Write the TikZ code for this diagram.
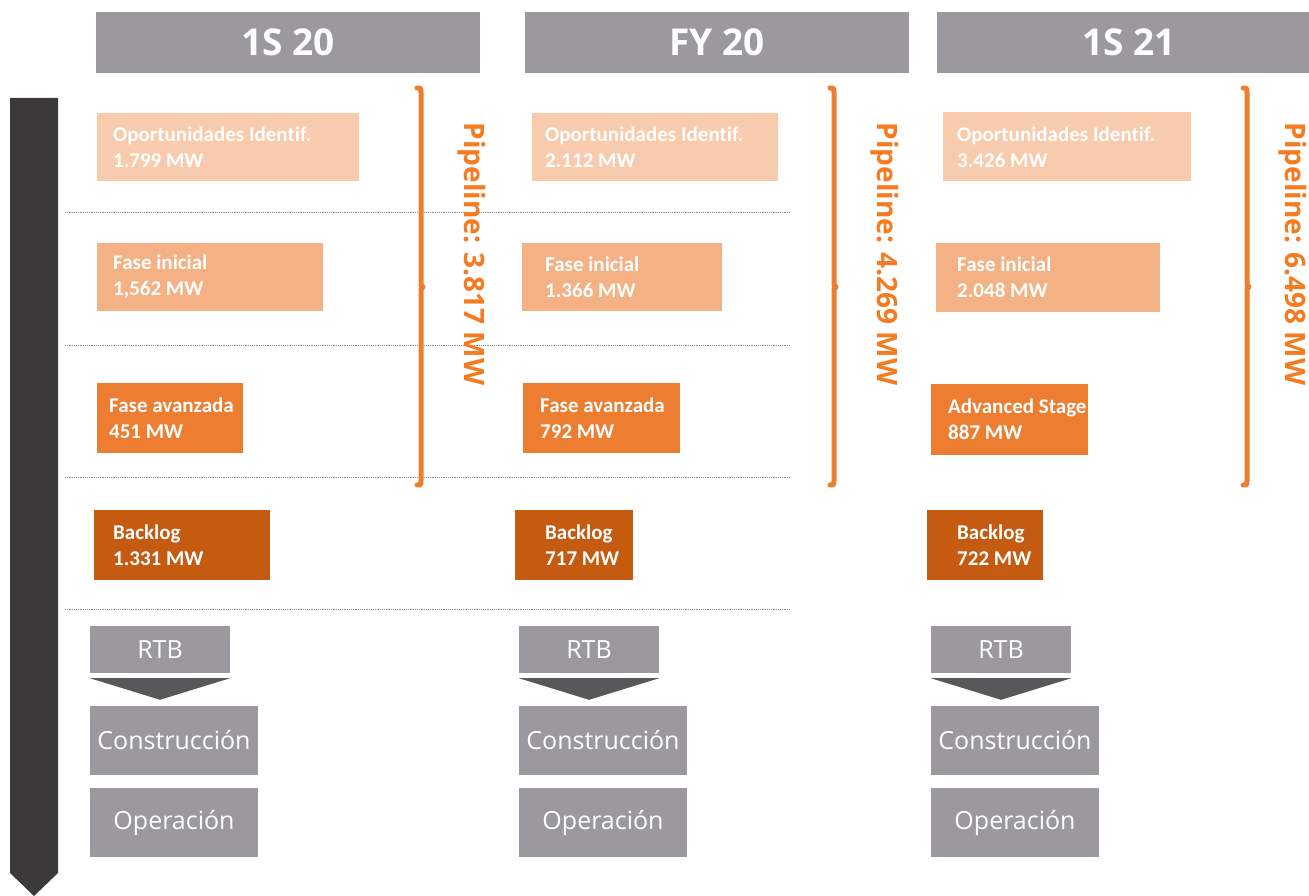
\documentclass[tikz,border=0pt]{standalone}
\usepackage{fontspec}
\setmainfont{Open Sans}
\newfontfamily\calfont[Ligatures=NoCommon]{Carlito}
\definecolor{hdrgrey}{HTML}{9B999E}
\definecolor{bargrey}{HTML}{3B3A38}
\definecolor{trigrey}{HTML}{58585A}
\definecolor{dotgrey}{HTML}{8C8C8C}
\definecolor{oppcol}{HTML}{F8CBAD}
\definecolor{inicol}{HTML}{F4B183}
\definecolor{advcol}{HTML}{ED7D31}
\definecolor{bkgcol}{HTML}{C55A11}
\definecolor{brkcol}{HTML}{ED7D31}
\definecolor{pipecol}{HTML}{F57A20}
\begin{document}
\begin{tikzpicture}[x=1pt,y=-1pt,line join=round,
	head/.style={fill=hdrgrey,minimum width=384pt,minimum height=61pt,inner sep=0,text=white,font=\bfseries\fontsize{37}{44}\selectfont},
	stage/.style={inner sep=0},
	stagetxt/.style={anchor=west,align=left,inner sep=0,text=white,font=\calfont\bfseries\fontsize{21}{26}\selectfont},
	greybox/.style={fill=hdrgrey,inner sep=0,text=white,font=\fontsize{25}{30}\selectfont},
	pipe/.style={rotate=-90,inner sep=0,text=pipecol,font=\bfseries\fontsize{28}{32}\selectfont},
	brace/.style={draw=brkcol,line width=5pt,line cap=round},
	dotline/.style={draw=dotgrey,line width=0.8pt,dash pattern=on 1.2pt off 1pt}]
	\useasboundingbox (0,0) rectangle (1309,896);
	% time arrow
	\fill[bargrey] (10,98) -- (58,98) -- (58,873) -- (34,896) -- (10,873) -- cycle;
	% headers
	\node[head] (h1) at (288,42.5) {1S 20};
	\node[head] (h2) at (717,42.5) {FY 20};
	\node[head] (h3) at (1129,42.5) {1S 21};
	% separators
	\foreach \y in {212,345,477,609}
		\draw[dotline] (65,\y) -- (790,\y);
	% 1S 20
	\node[stage,fill=oppcol,minimum width=262pt,minimum height=68pt] (op1) at (228,147) {};
	\node[stagetxt] (op1t) at (113,147) {Oportunidades Identif.\\1.799 MW};
	\node[stage,fill=inicol,minimum width=226pt,minimum height=68pt] (fi1) at (210,277) {};
	\node[stagetxt] (fi1t) at (113,277) {Fase inicial\\1,562 MW};
	\node[stage,fill=advcol,minimum width=146pt,minimum height=70pt] (fa1) at (170,418) {};
	\node[stagetxt] (fa1t) at (109,418) {Fase avanzada\\451 MW};
	\node[stage,fill=bkgcol,minimum width=176pt,minimum height=70pt] (bl1) at (182,545) {};
	\node[stagetxt] (bl1t) at (113,545) {Backlog\\1.331 MW};
	% FY 20
	\node[stage,fill=oppcol,minimum width=246pt,minimum height=68pt] (op2) at (655,147) {};
	\node[stagetxt] (op2t) at (545,147) {Oportunidades Identif.\\2.112 MW};
	\node[stage,fill=inicol,minimum width=200pt,minimum height=68pt] (fi2) at (622,277) {};
	\node[stagetxt] (fi2t) at (545,277) {Fase inicial\\1.366 MW};
	\node[stage,fill=advcol,minimum width=157pt,minimum height=70pt] (fa2) at (601.5,418) {};
	\node[stagetxt] (fa2t) at (540,418) {Fase avanzada\\792 MW};
	\node[stage,fill=bkgcol,minimum width=118pt,minimum height=70pt] (bl2) at (574,545) {};
	\node[stagetxt] (bl2t) at (545,545) {Backlog\\717 MW};
	% 1S 21
	\node[stage,fill=oppcol,minimum width=248pt,minimum height=69pt] (op3) at (1067,147) {};
	\node[stagetxt] (op3t) at (957,147) {Oportunidades Identif.\\3.426 MW};
	\node[stage,fill=inicol,minimum width=224pt,minimum height=69pt] (fi3) at (1048,277.5) {};
	\node[stagetxt] (fi3t) at (957,277.5) {Fase inicial\\2.048 MW};
	\node[stage,fill=advcol,minimum width=157pt,minimum height=71pt] (fa3) at (1009.5,419.5) {};
	\node[stagetxt] (fa3t) at (948,419.5) {Advanced Stage\\887 MW};
	\node[stage,fill=bkgcol,minimum width=116pt,minimum height=70pt] (bl3) at (985,545) {};
	\node[stagetxt] (bl3t) at (957,545) {Backlog\\722 MW};
	% pipeline brackets
	\foreach \bx/\tx/\val [count=\c] in {421/472/3.817,834/885/4.269,1247/1293/6.498} {
		\draw[brace] (\bx-4,88) .. controls (\bx,88) .. (\bx,93) -- (\bx,285) -- (\bx+2,287) -- (\bx,289) -- (\bx,480) .. controls (\bx,485) .. (\bx-4,485);
		\node[pipe] (pl\c) at (\tx,254) {Pipeline: \val\ MW};
	}
	% RTB, construction, operation
	\foreach \gx [count=\c] in {90,519,931} {
		\node[greybox,minimum width=140pt,minimum height=47pt] (rtb\c) at (\gx+70,649.5) {RTB};
		\node[greybox,minimum width=168pt,minimum height=69pt] (con\c) at (\gx+84,740.5) {Construcción};
		\node[greybox,minimum width=168pt,minimum height=69pt] (ope\c) at (\gx+84,822.5) {Operación};
		\fill[trigrey] ([yshift=-5pt]rtb\c.south west) -- ([yshift=-5pt]rtb\c.south east) -- ([yshift=6pt]con\c.north -| rtb\c.south) -- cycle;
	}
\end{tikzpicture}
\end{document}
